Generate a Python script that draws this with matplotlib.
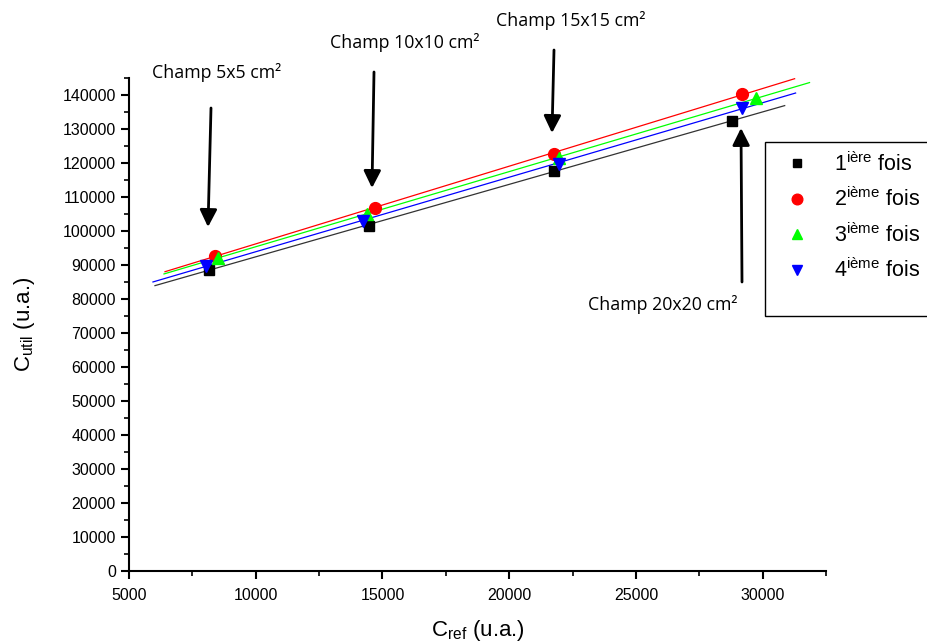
import numpy as np
import matplotlib
matplotlib.use("Agg")
import matplotlib.pyplot as plt
from matplotlib.lines import Line2D
from matplotlib.patches import Rectangle, FancyArrowPatch

plt.rcParams['font.family'] = ['Liberation Sans', 'DejaVu Sans']

# ---- data ----
series_labels = ["1$^{\\mathregular{ière}}$ fois", "2$^{\\mathregular{ième}}$ fois",
                 "3$^{\\mathregular{ième}}$ fois", "4$^{\\mathregular{ième}}$ fois"]
x1 = [8155, 14464, 21760, 28778]
y1 = [88640, 101560, 117700, 132375]
x2 = [8391, 14700, 21760, 29172]
y2 = [92750, 106840, 122690, 140300]
x3 = [8509, 14385, 21956, 29724]
y3 = [92160, 105080, 121515, 139125]
x4 = [8036, 14227, 21956, 29172]
y4 = [89815, 103020, 119750, 136190]
fit_ranges = [(6025, 30870), (6420, 31262), (6380, 31850), (5946, 31300)]
field_labels = ["Champ 5x5 cm²", "Champ 10x10 cm²", "Champ 15x15 cm²", "Champ 20x20 cm²"]

colors = ['black', '#ff0000', '#00ff00', '#0000ff']
markers = ['s', 'o', '^', 'v']
msizes = [7, 8.5, 8.5, 8.5]

W, H = 927, 644
fig = plt.figure(figsize=(W/100, H/100), dpi=100)
ax = fig.add_axes([129/W, 1-571/H, (826-129)/W, (571-78)/H])

xs = [x1, x2, x3, x4]
ys = [y1, y2, y3, y4]
# fit lines
for (xa, ya), (lo, hi), c in zip(zip(xs, ys), fit_ranges, colors):
    p = np.polyfit(xa, ya, 1)
    xx = np.array([lo, hi])
    lc = '#333333' if c == 'black' else c
    ax.plot(xx, np.polyval(p, xx), color=lc, lw=0.9, zorder=2)
handles = []
for xa, ya, c, m, ms, lab in zip(xs, ys, colors, markers, msizes, series_labels):
    ax.plot(xa, ya, linestyle='none', marker=m, color=c, ms=ms, zorder=3)
    handles.append(Line2D([], [], linestyle='none', marker=m, color=c, ms=ms*0.9, label=lab))

ax.set_xlim(5000, 32500)
ax.set_ylim(0, 145000)
ax.set_xticks(np.arange(5000, 30001, 5000))
ax.set_xticks(np.arange(5000, 32501, 2500), minor=True)
ax.set_yticks(np.arange(0, 140001, 10000))
ax.set_yticks(np.arange(0, 145001, 5000), minor=True)
for s in ['top', 'right']:
    ax.spines[s].set_visible(False)
for s in ['left', 'bottom']:
    ax.spines[s].set_linewidth(1.5)
ax.tick_params(which='major', direction='out', length=6, width=1.5, labelsize=11.5)
ax.tick_params(which='minor', direction='out', length=3.5, width=1.2)
ax.tick_params(axis='x', pad=6)
ax.set_xlabel("C$_{\\mathregular{ref}}$ (u.a.)", fontsize=16, labelpad=11)
ax.set_ylabel("C$_{\\mathregular{util}}$ (u.a.)", fontsize=16, labelpad=18)

# annotations (pixel positions in figure)
ann = [
    (field_labels[0], (217, 72), (211, 108), (208, 227)),
    (field_labels[1], (405, 42), (374, 72), (372, 188)),
    (field_labels[2], (571, 20), (554, 50), (552, 133)),
    (field_labels[3], (663, 305), (742, 282), (741, 128)),
]
for lab, tpos, tail, tip in ann:
    fig.text(tpos[0]/W, 1-tpos[1]/H, lab, ha='center', va='center',
             fontsize=12.8, family=['Open Sans', 'DejaVu Sans'])
    fig.add_artist(FancyArrowPatch(
        (tail[0]/W, 1-tail[1]/H), (tip[0]/W, 1-tip[1]/H),
        transform=fig.transFigure, arrowstyle='-|>', mutation_scale=26,
        lw=2, color='black', shrinkA=0, shrinkB=0))

# legend frame (extends past the right edge as in the reference)
fig.add_artist(Rectangle((765/W, 1-316/H), 200/W, 174/H, transform=fig.transFigure,
                         facecolor='white', edgecolor='black', lw=1.0, zorder=4))
leg = fig.legend(handles=handles, loc='upper left',
                 bbox_to_anchor=(782/W, 1-148/H), bbox_transform=fig.transFigure,
                 frameon=False, fontsize=15.5,
                 handlelength=1.0, handletextpad=1.2, labelspacing=0.55,
                 borderpad=0.2, borderaxespad=0)
leg.set_zorder(5)

fig.savefig("out.png", dpi=100)
